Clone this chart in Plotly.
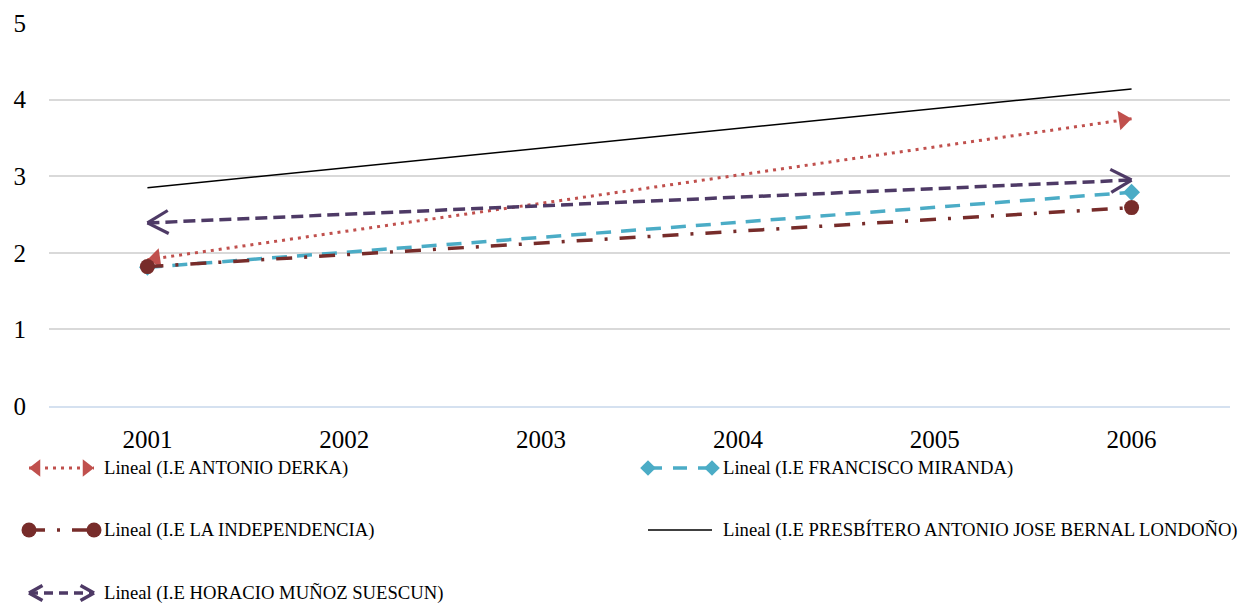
import math
import plotly.graph_objects as go

# ---- data -------------------------------------------------------------
YEARS = ["2001", "2002", "2003", "2004", "2005", "2006"]
Y_TICKS = [0, 1, 2, 3, 4, 5]

NAMES = [
    "Lineal (I.E ANTONIO DERKA)",
    "Lineal (I.E FRANCISCO MIRANDA)",
    "Lineal (I.E LA INDEPENDENCIA)",
    "Lineal (I.E PRESBÍTERO ANTONIO JOSE BERNAL LONDOÑO)",
    "Lineal (I.E HORACIO MUÑOZ SUESCUN)",
]
# linear trend values at the first and last year
ANTONIO_DERKA = [1.91, 3.75]
FRANCISCO_MIRANDA = [1.81, 2.79]
LA_INDEPENDENCIA = [1.82, 2.59]
PRESBITERO = [2.85, 4.14]
HORACIO_MUNOZ = [2.39, 2.95]

# ---- styling / layout -------------------------------------------------
W, H = 1243, 603
PLOT_L, PLOT_R, PLOT_T, PLOT_B = 49, 1230, 23, 406
FONT = "'Liberation Serif', 'Times New Roman', serif"

RED, CYAN, MAROON, BLACK, PURPLE = "#C0504D", "#4BACC6", "#772C2A", "#000000", "#4E3A66"

PX_X = (PLOT_R - PLOT_L) / len(YEARS)          # px per category
PX_Y = (PLOT_B - PLOT_T) / (Y_TICKS[-1] - Y_TICKS[0])  # px per unit

ENDS = [YEARS[0], YEARS[-1]]


def screen_dir(vals):
    """Unit vector (screen coords, y down) from first to last point."""
    dx = PX_X * (len(YEARS) - 1)
    dy = -(vals[1] - vals[0]) * PX_Y
    n = math.hypot(dx, dy)
    return dx / n, dy / n


def tri_angle(u):
    # triangle-up points toward -y; rotate so it points along u
    return math.degrees(math.atan2(u[0], -u[1]))


def rot(v, a):
    c, s = math.cos(a), math.sin(a)
    return v[0] * c - v[1] * s, v[0] * s + v[1] * c


def arm_angles(p, spread=29):
    # two strokes leaving the tip backwards, forming an open chevron
    back = (-p[0], -p[1])
    out = []
    for sgn in (1, -1):
        d = rot(back, math.radians(sgn * spread))
        out.append(math.degrees(math.atan2(-d[0], d[1])))
    return out


fig = go.Figure()

AX = dict(xaxis="x", yaxis="y")


def add_line(xs, ys, color, width, dash, axes):
    fig.add_trace(go.Scatter(x=xs, y=ys, mode="lines", hoverinfo="skip",
                             line=dict(color=color, width=width, dash=dash),
                             showlegend=False, **axes))


def add_arrows(xs, ys, u, color, size, axes):
    angles = [tri_angle((-u[0], -u[1])), tri_angle(u)]
    fig.add_trace(go.Scatter(
        x=xs, y=ys, mode="markers", hoverinfo="skip", showlegend=False,
        marker=dict(symbol="triangle-up", size=size, color=color,
                    angle=angles, standoff=size / 2, line=dict(width=0)),
        **axes))


def add_points(xs, ys, symbol, color, size, axes):
    fig.add_trace(go.Scatter(
        x=xs, y=ys, mode="markers", hoverinfo="skip", showlegend=False,
        marker=dict(symbol=symbol, size=size, color=color, line=dict(width=0)),
        **axes))


def add_chevrons(xs, ys, u, color, size, width, axes):
    angles = arm_angles((-u[0], -u[1])) + arm_angles(u)
    fig.add_trace(go.Scatter(
        x=[xs[0], xs[0], xs[1], xs[1]], y=[ys[0], ys[0], ys[1], ys[1]],
        mode="markers", hoverinfo="skip", showlegend=False,
        marker=dict(symbol="line-ns", size=size, color=color, angle=angles,
                    standoff=size / 2 * 1.4,
                    line=dict(width=width, color=color)),
        **axes))


DASH_RED = "3px,5px"
DASH_CYAN = "15px,10px"
DASH_MAROON = "16px,12px,3px,12px"
DASH_PURPLE = "12px,6px"

# ---- trend lines ------------------------------------------------------
add_line(ENDS, ANTONIO_DERKA, RED, 3, DASH_RED, AX)
add_arrows(ENDS, ANTONIO_DERKA, screen_dir(ANTONIO_DERKA), RED, 17, AX)

add_line(ENDS, FRANCISCO_MIRANDA, CYAN, 3.5, DASH_CYAN, AX)
add_points(ENDS, FRANCISCO_MIRANDA, "diamond", CYAN, 13, AX)

add_line(ENDS, LA_INDEPENDENCIA, MAROON, 3.5, DASH_MAROON, AX)
add_points(ENDS, LA_INDEPENDENCIA, "circle", MAROON, 15, AX)

add_line(ENDS, PRESBITERO, BLACK, 1.5, "solid", AX)

add_line(ENDS, HORACIO_MUNOZ, PURPLE, 3.5, DASH_PURPLE, AX)
add_chevrons(ENDS, HORACIO_MUNOZ, screen_dir(HORACIO_MUNOZ), PURPLE, 17, 3.2, AX)

# ---- legend (drawn on a pixel-scaled overlay axis) ---------------------
LG = dict(xaxis="x2", yaxis="y2")
COL1 = (29, 94, 103)     # sample start, sample end, label x
COL2 = (648, 712, 722)
ROW1, ROW2, ROW3 = 468, 530, 593
RIGHT = (1.0, 0.0)

add_line(COL1[:2], [ROW1, ROW1], RED, 3, DASH_RED, LG)
add_arrows(COL1[:2], [ROW1, ROW1], RIGHT, RED, 15, LG)

add_line(COL2[:2], [ROW1, ROW1], CYAN, 3.5, "14px,11px", LG)
add_points(COL2[:2], [ROW1, ROW1], "diamond", CYAN, 12, LG)

add_line(COL1[:2], [ROW2, ROW2], MAROON, 3.5, "16px,12px,3px,12px", LG)
add_points(COL1[:2], [ROW2, ROW2], "circle", MAROON, 15, LG)

add_line(COL2[:2], [ROW2, ROW2], BLACK, 1.5, "solid", LG)

add_line(COL1[:2], [ROW3, ROW3], PURPLE, 3.5, "9px,6px", LG)
add_chevrons(COL1[:2], [ROW3, ROW3], RIGHT, PURPLE, 11, 3.5, LG)

labels = [(COL1[2], ROW1, NAMES[0]), (COL2[2], ROW1, NAMES[1]),
          (COL1[2], ROW2, NAMES[2]), (COL2[2], ROW2, NAMES[3]),
          (COL1[2], ROW3, NAMES[4])]
annotations = [
    dict(x=x, y=y, xref="x2", yref="y2", text=t, showarrow=False,
         xanchor="left", yanchor="middle", borderpad=0,
         font=dict(family=FONT, size=18.67, color="#000000"))
    for x, y, t in labels
]

fig.update_layout(
    width=W, height=H,
    margin=dict(l=0, r=0, t=0, b=0, pad=0, autoexpand=False),
    paper_bgcolor="#FFFFFF",
    plot_bgcolor="rgba(0,0,0,0)",
    showlegend=False,
    annotations=annotations,
    xaxis=dict(
        domain=[PLOT_L / W, PLOT_R / W],
        type="category", categoryorder="array", categoryarray=YEARS,
        range=[-0.5, len(YEARS) - 0.5],
        showgrid=False, zeroline=False, automargin=False,
        showline=True, linecolor="#D5E1F0", linewidth=1.5,
        ticks="", ticklabelstandoff=10,
        tickfont=dict(family=FONT, size=25, color="#000000"),
        fixedrange=True,
    ),
    yaxis=dict(
        domain=[1 - PLOT_B / H, 1 - PLOT_T / H],
        range=[Y_TICKS[0], Y_TICKS[-1]],
        tickvals=Y_TICKS, automargin=False,
        showgrid=True, gridcolor="#D9D9D9", gridwidth=1.5,
        zeroline=False, showline=False,
        ticks="", ticklabelstandoff=22,
        tickfont=dict(family=FONT, size=25, color="#000000"),
        fixedrange=True,
    ),
    xaxis2=dict(domain=[0, 1], range=[0, W], visible=False, fixedrange=True,
                anchor="y2", automargin=False),
    yaxis2=dict(domain=[0, 1], range=[H, 0], visible=False, fixedrange=True,
                anchor="x2", automargin=False),
)

fig.write_html("out.html")
